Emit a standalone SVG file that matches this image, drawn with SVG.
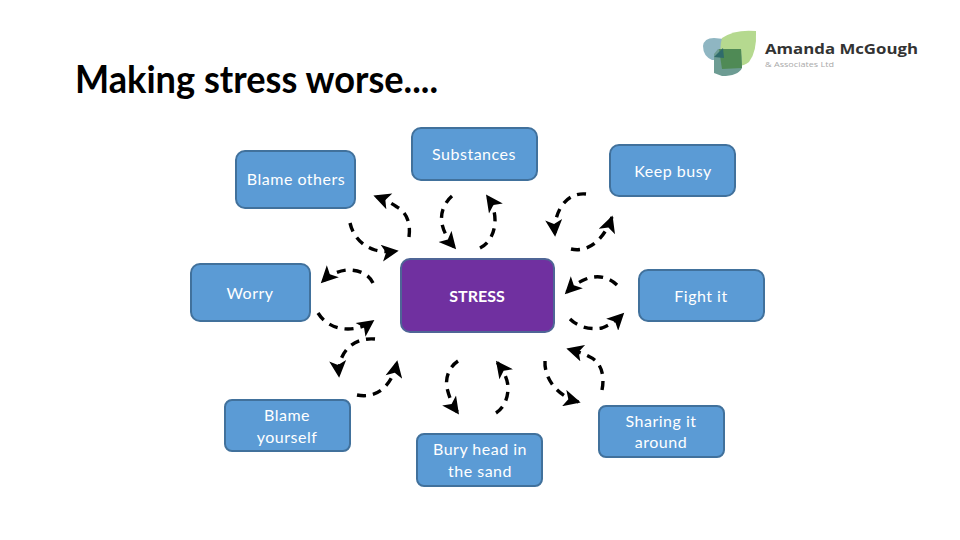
<svg xmlns="http://www.w3.org/2000/svg" width="960" height="540" viewBox="0 0 960 540">
<style>
.box{fill:#5b9bd5;stroke:#41719c;stroke-width:2}
.lbl{font-family:Lato,"Liberation Sans",sans-serif;font-size:16px;letter-spacing:.5px;fill:#fff;text-anchor:middle}
.con path{fill:none;stroke:#000;stroke-width:3.4;stroke-dasharray:9 7;marker-end:url(#ah)}
</style>
<defs>
<marker id="ah" viewBox="0 0 10 10" refX="9" refY="5" markerWidth="5.5" markerHeight="5" orient="auto"><path d="M0 0L10 5L0 10L2.5 5Z" fill="#000"/></marker>
</defs>
<rect width="960" height="540" fill="#fff"/>
<text id="title" x="75" y="93" font-family="Lato,'Liberation Sans',sans-serif" font-size="38" font-weight="700" fill="#000" textLength="363" lengthAdjust="spacingAndGlyphs">Making stress worse....</text>
<g id="logo">
<path d="M703 46Q704 38 714 38L724 39L725 60L712 60Q703 56 703 46Z" fill="#8fb6c2"/>
<path d="M722 38Q735 29 756 31Q757 52 749 62Q744 66 738 66L722 58Q719 48 722 38Z" fill="#b5d98f"/>
<path d="M714 54L718 49L741 49L742 68Q738 76 722 76L714 73Z" fill="#6d9c93"/>
<path d="M719 49L741 49L742 68L722 69Z" fill="#4f8a55"/>
<path d="M714 57L723 48L724 58Z" fill="#2f6b6b"/>
<text x="765" y="54" font-family="'Open Sans','Liberation Sans',sans-serif" font-size="15" font-weight="700" fill="#333" textLength="153" lengthAdjust="spacingAndGlyphs">Amanda McGough</text>
<text x="765" y="67" font-family="'Open Sans','Liberation Sans',sans-serif" font-size="8" fill="#aaa" textLength="69" lengthAdjust="spacingAndGlyphs">&amp; Associates Ltd</text>
</g>
<g id="connectors" class="con">
<path d="M409 237C411 222 406 212 397 207C390 202 383 199 375 196"/>
<path d="M350 223C353 236 362 246 375 250C382 252 390 252 397 251"/>
<path d="M452 196C444 203 440 213 442 224C444 233 449 241 455 248"/>
<path d="M480 248C490 243 495 232 495 220C495 211 492 203 487 196"/>
<path d="M586 194C566 192 553 212 555 235"/>
<path d="M571 249C588 253 604 240 612 217"/>
<path d="M373 283C368 273 358 270 347 270C337 271 328 276 322 282"/>
<path d="M318 313C325 324 336 329 348 329C357 329 366 326 373 321"/>
<path d="M375 339C353 337 337 353 339 376"/>
<path d="M357 395C377 399 392 386 397 362"/>
<path d="M458 361C449 367 445 378 447 388C449 397 453 406 458 413"/>
<path d="M496 413C504 408 508 398 508 388C508 379 503 370 497 362"/>
<path d="M545 361C544 377 556 396 579 402"/>
<path d="M602 390C605 375 601 362 590 357C583 353 575 351 568 349"/>
<path d="M617 285C608 276 596 275 586 279C578 282 572 287 566 293"/>
<path d="M570 319C578 327 590 330 602 328C610 325 617 320 623 314"/>
</g>
<g id="n-blame-others"><rect class="box" x="236" y="151" width="119" height="57" rx="9"/><text class="lbl" x="296" y="185">Blame others</text></g>
<g id="n-substances"><rect class="box" x="412" y="128" width="125" height="52" rx="9"/><text class="lbl" x="474" y="160">Substances</text></g>
<g id="n-keep-busy"><rect class="box" x="610" y="145" width="125" height="51" rx="9"/><text class="lbl" x="673" y="177">Keep busy</text></g>
<g id="n-worry"><rect class="box" x="191" y="264" width="119" height="57" rx="9"/><text class="lbl" x="250" y="299">Worry</text></g>
<g id="n-stress"><rect x="401" y="259" width="153" height="73" rx="9" fill="#7030a0" stroke="#4f6596" stroke-width="2"/><text class="lbl" x="477" y="302" font-weight="700" style="letter-spacing:0">STRESS</text></g>
<g id="n-fight-it"><rect class="box" x="639" y="270" width="125" height="51" rx="9"/><text class="lbl" x="701" y="302">Fight it</text></g>
<g id="n-blame-yourself"><rect class="box" x="225" y="400" width="125" height="51" rx="7"/><text class="lbl" x="287" y="421">Blame</text><text class="lbl" x="287" y="443">yourself</text></g>
<g id="n-bury"><rect class="box" x="417" y="434" width="125" height="52" rx="7"/><text class="lbl" x="480" y="455">Bury head in</text><text class="lbl" x="480" y="477">the sand</text></g>
<g id="n-sharing"><rect class="box" x="599" y="406" width="125" height="51" rx="7"/><text class="lbl" x="661" y="427">Sharing it</text><text class="lbl" x="661" y="448">around</text></g>
</svg>
